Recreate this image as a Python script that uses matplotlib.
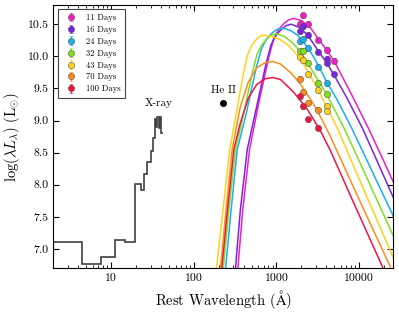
import numpy as np
import matplotlib
matplotlib.use("Agg")
import matplotlib.pyplot as plt
from matplotlib.ticker import FixedLocator, FuncFormatter, LogLocator, NullFormatter

plt.rcParams['font.family'] = ['cmr10', 'DejaVu Serif']
plt.rcParams['mathtext.fontset'] = 'cm'
plt.rcParams['axes.formatter.use_mathtext'] = True

# --- X-ray spectrum (step histogram) ---
xray_edges = [1.5, 4.38, 7.6, 11.1, 14.6, 19.4, 22.9, 25.1, 26.8, 30.5, 32.3,
              33.5, 34.7, 36.0, 37.4, 38.8, 40.3, 41.9]
xray_vals = [7.10, 6.77, 6.88, 7.14, 7.10, 8.01, 7.92, 8.16, 8.36, 8.52, 8.73,
             9.03, 8.90, 9.05, 8.88, 9.06, 8.80]

# --- He II point ---
heii_wave = 226
heii_lum = 9.28

# --- epochs ---
epochs = ['11 Days', '16 Days', '24 Days', '32 Days', '43 Days', '70 Days', '100 Days']
colors = ['#f01ec8', '#7b22e0', '#1ab0ee', '#80e020', '#ffd21a', '#ff8c1a', '#ee1640']

# photometry: rest wavelengths (A) and log(lambda L_lambda)
phot_wave = {
    '11 Days': [2100, 1920, 2390, 3220, 4050, 5020],
    '16 Days': [2100, 1920, 2390, 3220, 4050, 4050, 5020],
    '24 Days': [1920, 2100, 2390, 3220, 4050],
    '32 Days': [1920, 2100, 2390, 3220, 4050],
    '43 Days': [1920, 2100, 2390, 3220, 4050, 4050],
    '70 Days': [1920, 2100, 2390, 3220],
    '100 Days': [1920, 2100, 2390, 3220],
}
phot_lum = {
    '11 Days': [10.64, 10.51, 10.51, 10.26, 10.10, 9.93],
    '16 Days': [10.47, 10.39, 10.34, 10.07, 9.96, 9.90, 9.72],
    '24 Days': [10.24, 10.27, 10.13, 9.84, 9.58],
    '32 Days': [10.08, 10.09, 9.90, 9.59, 9.42],
    '43 Days': [9.99, 9.94, 9.72, 9.47, 9.22, 9.15],
    '70 Days': [9.65, 9.44, 9.28, 9.17],
    '100 Days': [9.38, 9.22, 9.02, 8.89],
}
phot_err = 0.04

# fitted model curves
fit_wave = {
    '11 Days': [341, 390, 472, 605, 693, 802, 923, 1062, 1224, 1407, 1620, 2000, 2600,
                3220, 4050, 5020, 8000, 13060, 20000, 26180],
    '16 Days': [319, 365, 443, 563, 645, 746, 858, 988, 1139, 1309, 1506, 1900, 2390,
                3220, 4050, 5020, 7000, 11070, 18000, 26180],
    '24 Days': [242, 282, 335, 429, 491, 568, 658, 758, 877, 1012, 1170, 1450, 1800,
                2200, 2700, 3220, 4050, 5500, 8220, 14000, 26180],
    '32 Days': [227, 265, 319, 386, 441, 507, 581, 665, 762, 873, 1000, 1250, 1600,
                2000, 2500, 3220, 4050, 6640, 12000, 26180],
    '43 Days': [188, 225, 272, 314, 350, 394, 443, 496, 557, 625, 701, 883, 1112, 1400,
                1977, 3221, 5508, 10000, 26180],
    '70 Days': [210, 245, 291, 363, 456, 575, 724, 912, 1117, 1500, 1950, 2825, 3500,
                4500, 10000, 23880],
    '100 Days': [218, 255, 305, 363, 456, 575, 724, 912, 1117, 1618, 2350, 3405, 4500,
                 9000, 19500],
}
fit_lum = {
    '11 Days': [6.70, 7.60, 8.55, 9.25, 9.60, 9.97, 10.27, 10.42, 10.51, 10.57, 10.59, 10.56, 10.44,
                10.27, 10.10, 9.92, 9.42, 8.87, 8.36, 8.03],
    '16 Days': [6.70, 7.60, 8.55, 9.16, 9.51, 9.88, 10.18, 10.33, 10.42, 10.48, 10.50, 10.45, 10.33,
                10.08, 9.90, 9.70, 9.37, 8.87, 8.26, 7.79],
    '24 Days': [6.70, 7.60, 8.55, 9.10, 9.45, 9.82, 10.12, 10.27, 10.36, 10.42, 10.44, 10.41, 10.33,
                10.20, 10.03, 9.86, 9.60, 9.31, 8.87, 8.24, 7.50],
    '32 Days': [6.70, 7.60, 8.55, 9.01, 9.36, 9.73, 10.03, 10.18, 10.27, 10.33, 10.35, 10.31, 10.20,
                10.05, 9.85, 9.62, 9.41, 8.87, 8.15, 7.19],
    '43 Days': [6.70, 7.60, 8.55, 8.99, 9.34, 9.71, 10.01, 10.16, 10.25, 10.31, 10.33, 10.31, 10.26,
                10.17, 9.95, 9.47, 8.87, 8.09, 6.85],
    '70 Days': [6.70, 7.60, 8.55, 9.20, 9.60, 9.82, 9.90, 9.92, 9.88, 9.74, 9.57, 9.25, 9.03,
                8.75, 7.77, 6.72],
    '100 Days': [6.70, 7.60, 8.55, 8.95, 9.35, 9.56, 9.65, 9.67, 9.64, 9.44, 9.18, 8.84, 8.53,
                 7.66, 6.70],
}

fig = plt.figure(figsize=(3.99, 3.14), dpi=100)
ax = fig.add_axes([0.134, 0.146, 0.852, 0.838])

ax.stairs(xray_vals, xray_edges, baseline=None, color='#404040', lw=1.2)
ax.plot(heii_wave, heii_lum, 'o', color='black', ms=4)
ax.text(37.4, 9.2, 'X-ray', ha='center', va='bottom', fontsize=8)
ax.text(heii_wave, 9.4, 'He II', ha='center', va='bottom', fontsize=8)

for ep, c in zip(epochs, colors):
    ax.plot(fit_wave[ep], fit_lum[ep], '-', color=c, lw=1.1)
for ep, c in zip(epochs, colors):
    ax.errorbar(phot_wave[ep], phot_lum[ep], yerr=phot_err, fmt='o', color=c,
                ms=4.5, mec='#555555', mew=0.4, elinewidth=0.8, capsize=1.5,
                label=ep)

ax.set_xscale('log')
ax.set_xlim(2, 26000)
ax.set_ylim(6.7, 10.8)
ax.xaxis.set_major_locator(FixedLocator([10, 100, 1000, 10000]))
ax.xaxis.set_major_formatter(FuncFormatter(lambda v, p: '%d' % v))
ax.xaxis.set_minor_locator(LogLocator(base=10, subs=np.arange(2, 10), numticks=20))
ax.xaxis.set_minor_formatter(NullFormatter())
ax.set_yticks([7.0, 7.5, 8.0, 8.5, 9.0, 9.5, 10.0, 10.5])
ax.yaxis.set_major_formatter(FuncFormatter(lambda v, p: '%.1f' % v))
ax.tick_params(which='both', direction='in', top=True, right=True, labelsize=8.5)
ax.tick_params(which='major', length=4)
ax.tick_params(which='minor', length=2)

ax.set_xlabel(r'Rest Wavelength ($\mathrm{\AA}$)', fontsize=10.5)
ax.set_ylabel(r'$\log(\lambda L_{\lambda})\ (\mathrm{L}_{\odot})$', fontsize=10.5)

leg = ax.legend(loc='upper left', fontsize=6.2, numpoints=1, handletextpad=0.8,
                borderpad=0.5, labelspacing=0.4, fancybox=False, framealpha=1,
                edgecolor='#444444')
leg.get_frame().set_linewidth(0.8)

fig.savefig('out.png', dpi=100)
